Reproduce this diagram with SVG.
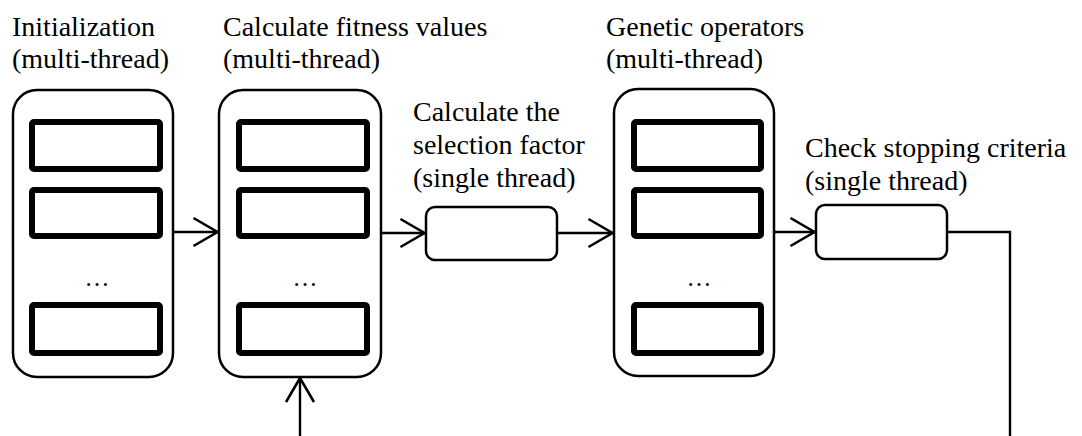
<svg xmlns="http://www.w3.org/2000/svg" width="1082" height="436" viewBox="0 0 1082 436">
  <defs>
    <marker id="arrow" markerUnits="userSpaceOnUse" markerWidth="32" markerHeight="36" refX="0" refY="0" viewBox="-28 -18 32 36" orient="auto" overflow="visible">
      <path d="M -24 -14 L 0 0 L -24 14" fill="none" stroke="#000" stroke-width="2.6"/>
    </marker>
  </defs>
  <rect width="1082" height="436" fill="#fff"/>

  <!-- connectors -->
  <g id="connectors" fill="none" stroke="#000" stroke-width="2.4">
    <line x1="174" y1="232" x2="217.5" y2="232" marker-end="url(#arrow)"/>
    <line x1="382" y1="233" x2="424.5" y2="233" marker-end="url(#arrow)"/>
    <line x1="558" y1="233" x2="612.5" y2="233" marker-end="url(#arrow)"/>
    <line x1="775" y1="232" x2="814.5" y2="232" marker-end="url(#arrow)"/>
    <polyline points="948,232 1010,232 1010,440"/>
    <line x1="300" y1="440" x2="300" y2="378" marker-end="url(#arrow)"/>
  </g>

  <!-- initialization -->
  <g id="init">
    <text x="12" y="36" font-size="28" font-family="Liberation Serif">Initialization</text>
    <text x="12" y="68" font-size="28" font-family="Liberation Serif">(multi-thread)</text>
    <rect x="13" y="90" width="160" height="287" rx="24" fill="#fff" stroke="#000" stroke-width="2.5"/>
    <g fill="#fff" stroke="#000" stroke-width="6">
      <rect x="32" y="122" width="128" height="47" rx="2"/>
      <rect x="32" y="190" width="128" height="46" rx="2"/>
      <rect x="32" y="305" width="128" height="48" rx="2"/>
    </g>
    <text x="97" y="286" font-size="25" font-family="Liberation Serif" text-anchor="middle">…</text>
  </g>

  <!-- fitness evaluation -->
  <g id="fitness">
    <text x="223" y="36" font-size="28" font-family="Liberation Serif">Calculate fitness values</text>
    <text x="223" y="68" font-size="28" font-family="Liberation Serif">(multi-thread)</text>
    <rect x="219" y="90" width="162" height="287" rx="24" fill="#fff" stroke="#000" stroke-width="2.5"/>
    <g fill="#fff" stroke="#000" stroke-width="6">
      <rect x="239" y="122" width="128" height="47" rx="2"/>
      <rect x="239" y="190" width="128" height="46" rx="2"/>
      <rect x="239" y="305" width="128" height="48" rx="2"/>
    </g>
    <text x="305" y="286" font-size="25" font-family="Liberation Serif" text-anchor="middle">…</text>
  </g>

  <!-- selection factor -->
  <g id="selection">
    <text x="413" y="121" font-size="28" font-family="Liberation Serif">Calculate the</text>
    <text x="413" y="154" font-size="28" font-family="Liberation Serif">selection factor</text>
    <text x="413" y="187" font-size="28" font-family="Liberation Serif">(single thread)</text>
    <rect x="426" y="207" width="131" height="53" rx="9" fill="#fff" stroke="#000" stroke-width="2.5"/>
  </g>

  <!-- genetic operators -->
  <g id="operators">
    <text x="606" y="36" font-size="28" font-family="Liberation Serif">Genetic operators</text>
    <text x="606" y="68" font-size="28" font-family="Liberation Serif">(multi-thread)</text>
    <rect x="614" y="89" width="160" height="287" rx="24" fill="#fff" stroke="#000" stroke-width="2.5"/>
    <g fill="#fff" stroke="#000" stroke-width="6">
      <rect x="634" y="122" width="127" height="47" rx="2"/>
      <rect x="634" y="190" width="127" height="46" rx="2"/>
      <rect x="634" y="305" width="127" height="48" rx="2"/>
    </g>
    <text x="699" y="286" font-size="25" font-family="Liberation Serif" text-anchor="middle">…</text>
  </g>

  <!-- stopping criteria -->
  <g id="stopping">
    <text x="805" y="157" font-size="28" font-family="Liberation Serif">Check stopping criteria</text>
    <text x="805" y="190" font-size="28" font-family="Liberation Serif">(single thread)</text>
    <rect x="816" y="205" width="131" height="54" rx="9" fill="#fff" stroke="#000" stroke-width="2.5"/>
  </g>
</svg>
